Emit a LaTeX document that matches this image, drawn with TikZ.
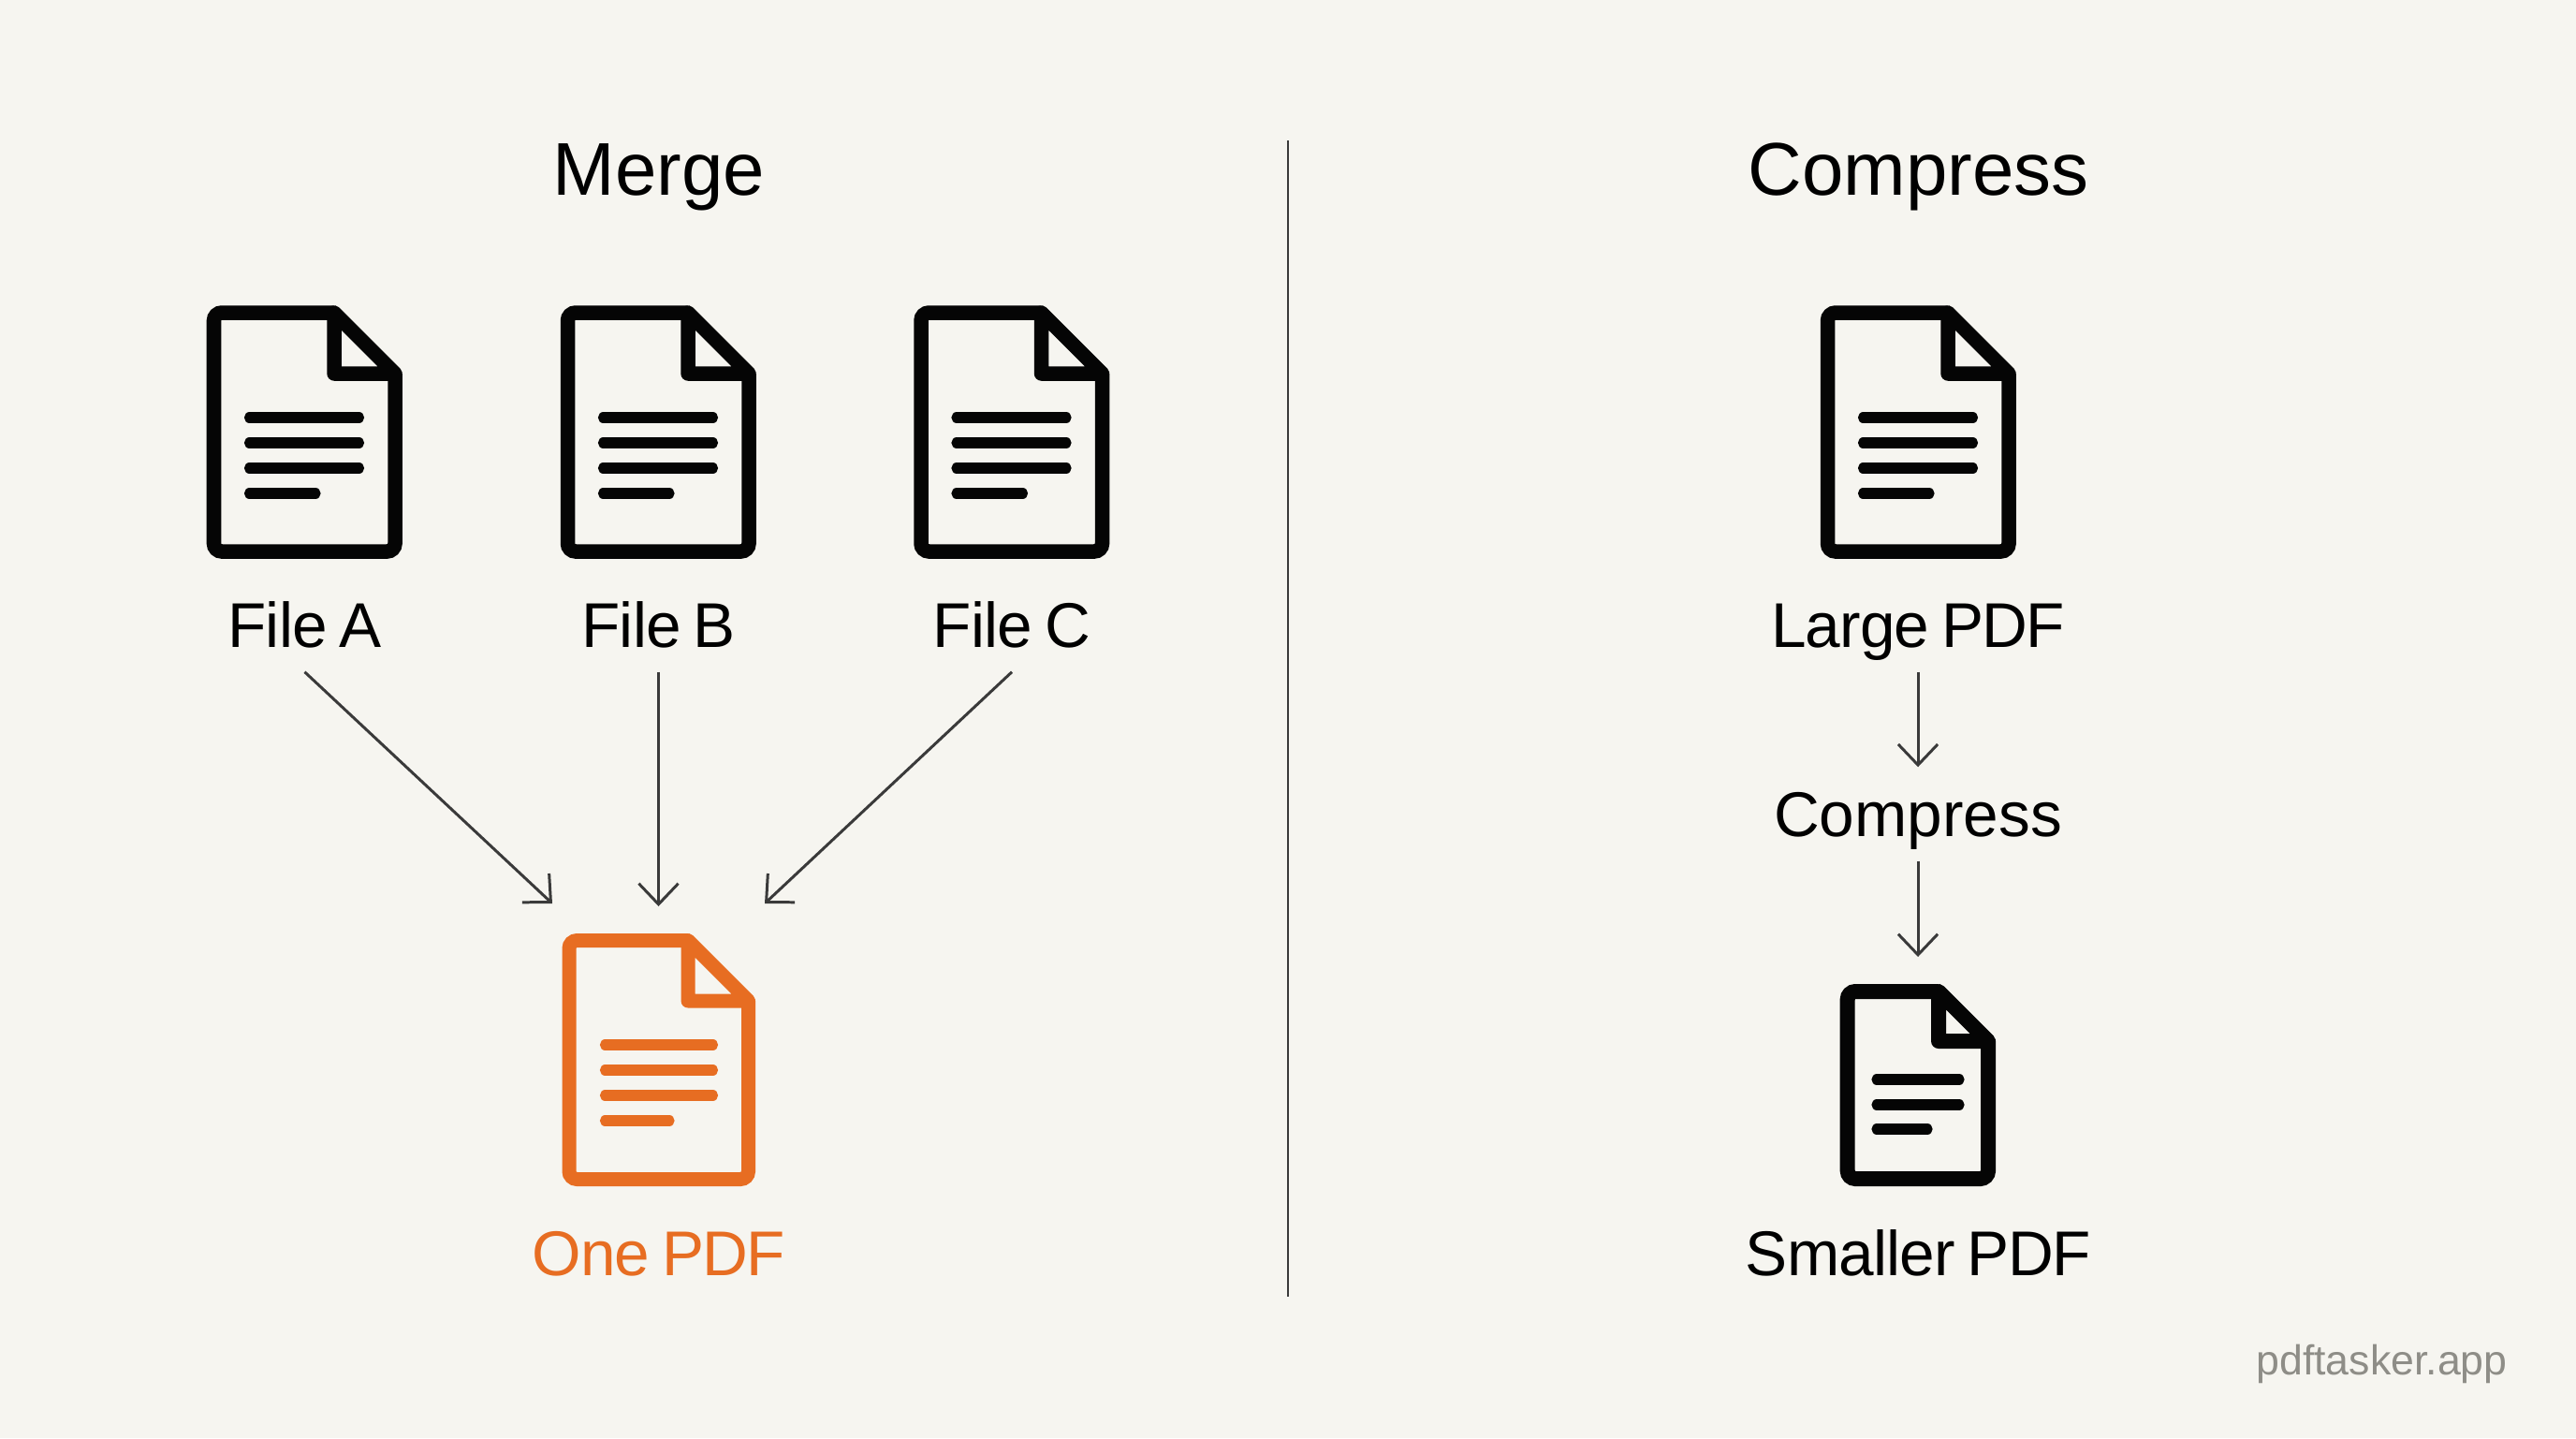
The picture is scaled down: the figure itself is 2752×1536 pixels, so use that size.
\documentclass[tikz,border=0pt]{standalone}
\usepackage{fontspec}
\setmainfont[WordSpace=0.72]{Liberation Sans}
\usetikzlibrary{arrows.meta}
\definecolor{bgc}{HTML}{F6F5F0}
\definecolor{ink}{HTML}{050505}
\definecolor{orng}{HTML}{E76D22}
\definecolor{linec}{HTML}{3A3A3A}
\definecolor{markc}{HTML}{8E8D87}
\tikzset{
  docbody/.style={line width=#1*0.2845pt, rounded corners=2.4pt},
  docfold/.style={line width=#1*0.2845pt, line join=round},
  docline/.style={line width=3.2pt, line cap=round},
  head/.style={font=\fontsize{22.7pt}{26pt}\selectfont, inner sep=0pt, text=black, anchor=base},
  lab/.style={font=\fontsize{19.2pt}{23pt}\selectfont, inner sep=0pt, text=black, anchor=base, text height=0.73cm, text depth=0.26cm},
  flow/.style={draw=linec, line width=0.85pt, -{Straight Barb[length=6.3pt,width=12pt,line width=0.85pt]}},
}
\newcommand{\tightpdf}{{\addfontfeature{LetterSpace=-2.5}PDF}}
\newcommand{\tightlab}{\addfontfeature{LetterSpace=-1.2}}
% left, top, right, bottom, fold, stroke width (px), colour
\newcommand{\docicon}[7]{%
  \draw[#7, docbody=#6] (#3-#5,#2) -- (#1,#2) -- (#1,#4) -- (#3,#4) -- (#3,#2+#5);
  \draw[#7, docfold=#6] (#3-#5,#2) -- (#3,#2+#5) -- (#3-#5,#2+#5) -- cycle;
}
\begin{document}
\begin{tikzpicture}[x=0.01cm,y=-0.01cm]
\path[use as bounding box, fill=bgc] (0,0) rectangle (2752,1536);

% titles
\node[head] (titleM) at (704,208) {Merge};
\node[head] (titleC) at (2049.5,208) {Compress};
\coordinate (divT) at (1376,150);
\coordinate (divB) at (1376,1385);
\draw[linec, line width=0.7pt] (divT) -- (divB);

% icons, merge side
\foreach \dx in {0,378,755.5} {
  \docicon{228.5+\dx}{334}{422+\dx}{589}{65}{15.5}{ink}
  \foreach \yy in {446,473,500} \draw[ink, docline] (266.5+\dx,\yy) -- (383.5+\dx,\yy);
  \draw[ink, docline] (266.5+\dx,527) -- (337+\dx,527);
}
% result icon
\docicon{608}{1004.5}{799.5}{1259.5}{64.5}{15}{orng}
\foreach \yy in {1116,1143,1170} \draw[orng, docline] (646.5,\yy) -- (761.5,\yy);
\draw[orng, docline] (646.5,1197) -- (715,1197);

% icons, compress side
\docicon{1952.5}{334}{2146}{589}{65}{15.5}{ink}
\foreach \yy in {446,473,500} \draw[ink, docline] (1990.5,\yy) -- (2107.5,\yy);
\draw[ink, docline] (1990.5,527) -- (2061,527);
\docicon{1973.7}{1059}{2124}{1259}{53}{16}{ink}
\foreach \yy in {1153,1180} \draw[ink, docline] (2005,\yy) -- (2093,\yy);
\draw[ink, docline] (2005,1206) -- (2059,1206);

% labels
\node[lab] (fileA) at (325.5,691) {\tightlab File A};
\node[lab] (fileB) at (703.5,691) {\tightlab File B};
\node[lab] (fileC) at (1081,691) {\tightlab File C};
\node[lab, text=orng] (one) at (703.5,1362) {\tightlab One \tightpdf};
\node[lab] (large) at (2049,691) {\tightlab Large \tightpdf};
\node[lab] (comp) at (2049,893) {Compress};
\node[lab] (smaller) at (2049,1362) {\tightlab Smaller \tightpdf};
\node[font=\fontsize{12.7pt}{15pt}\selectfont, inner sep=0pt, text=markc, anchor=base] (mark) at (2544.5,1468) {pdftasker.app};

% connectors
\coordinate (inL) at (590,965);
\coordinate (inM) at (703.5,968);
\coordinate (inR) at (817,965);
\coordinate (inS) at (2049,1022);
\draw[flow] (fileA.south) -- (inL);
\draw[flow] (fileB.south) -- (inM);
\draw[flow] (fileC.south) -- (inR);
\draw[flow] (large.south) -- (comp.north);
\draw[flow] (comp.south) -- (inS);
\end{tikzpicture}
\end{document}
